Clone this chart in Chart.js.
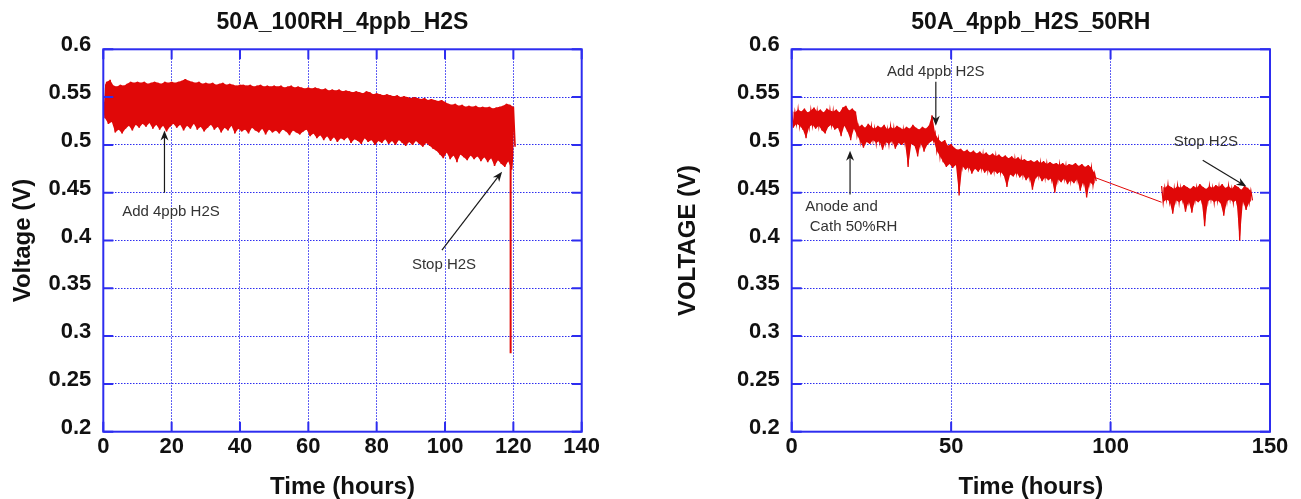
<!DOCTYPE html>
<html>
<head>
<meta charset="utf-8">
<title>Voltage vs time</title>
<script src="https://cdn.jsdelivr.net/npm/chart.js@4.4.1/dist/chart.umd.min.js"></script>
<style>
  html, body { margin: 0; padding: 0; background: #fff; }
  #wrap { position: relative; width: 1301px; height: 499px; overflow: hidden; }
  canvas { position: absolute; top: 0; }
  #chartA { left: 0; }
  #chartB { left: 660px; }
</style>
</head>
<body>
<div id="wrap">
  <canvas id="chartA" width="650" height="499"></canvas>
  <canvas id="chartB" width="641" height="499"></canvas>
</div>
<script>
// Títulos y marcas de ejes
const titleA = '50A_100RH_4ppb_H2S';
const titleB = '50A_4ppb_H2S_50RH';
const hourTicksA = [0, 20, 40, 60, 80, 100, 120, 140];
const hourTicksB = [0, 50, 100, 150];
const voltTicks = [0.2, 0.25, 0.3, 0.35, 0.4, 0.45, 0.5, 0.55, 0.6];

// Gráfico A: borde superior / inferior de la señal, una lectura por hora (0..120 h)
const highA = [
  0.560, 0.566, 0.568, 0.562, 0.561, 0.563, 0.562, 0.564, 0.566, 0.565, 0.566,
  0.565, 0.566, 0.564, 0.565, 0.566, 0.565, 0.564, 0.566, 0.565, 0.566,
  0.565, 0.566, 0.567, 0.569, 0.567, 0.566, 0.565, 0.566, 0.564, 0.565,
  0.564, 0.565, 0.563, 0.564, 0.565, 0.563, 0.564, 0.563, 0.562, 0.563,
  0.563, 0.562, 0.563, 0.561, 0.562, 0.563, 0.561, 0.562, 0.561, 0.562,
  0.561, 0.562, 0.560, 0.561, 0.562, 0.560, 0.561, 0.560, 0.559, 0.560,
  0.559, 0.560, 0.559, 0.558, 0.559, 0.557, 0.558, 0.557, 0.558, 0.556,
  0.557, 0.556, 0.555, 0.556, 0.555, 0.554, 0.556, 0.555, 0.553, 0.554,
  0.553, 0.552, 0.553, 0.552, 0.551, 0.552, 0.550, 0.551, 0.550, 0.549,
  0.550, 0.549, 0.548, 0.549, 0.547, 0.548, 0.547, 0.546, 0.547, 0.545,
  0.543, 0.542, 0.543, 0.541, 0.542, 0.540, 0.541, 0.540, 0.541, 0.539,
  0.540, 0.539, 0.540, 0.538, 0.539, 0.540, 0.541, 0.543, 0.542, 0.540
];
const lowA = [
  0.528, 0.522, 0.524, 0.513, 0.516, 0.512, 0.517, 0.520, 0.515, 0.521, 0.518,
  0.522, 0.519, 0.523, 0.517, 0.521, 0.516, 0.520, 0.514, 0.519, 0.522,
  0.518, 0.521, 0.515, 0.520, 0.517, 0.522, 0.516, 0.519, 0.514, 0.518,
  0.521, 0.516, 0.519, 0.513, 0.518, 0.515, 0.520, 0.512, 0.517, 0.514,
  0.516, 0.512, 0.518, 0.515, 0.513, 0.517, 0.511, 0.516, 0.513, 0.515,
  0.512, 0.516, 0.514, 0.510, 0.515, 0.513, 0.511, 0.514, 0.516, 0.509,
  0.512, 0.507, 0.510, 0.505, 0.509, 0.504, 0.508, 0.503, 0.507, 0.505,
  0.508, 0.502, 0.506, 0.504, 0.501, 0.507, 0.503, 0.505, 0.500, 0.504,
  0.502, 0.506, 0.501, 0.504, 0.500, 0.505, 0.502, 0.499, 0.503, 0.500,
  0.504, 0.501, 0.498, 0.502, 0.499, 0.496, 0.494, 0.490, 0.486, 0.492,
  0.485, 0.489, 0.482, 0.490, 0.487, 0.484, 0.489, 0.485, 0.488, 0.483,
  0.487, 0.482, 0.486, 0.478, 0.484, 0.480, 0.477, 0.483, 0.474, 0.498
];
// caída final a 119 h
const dropA = [[119.2, 0.505], [119.2, 0.282]];

// Gráfico B: tramo 1 (0..95 h) y tramo 2 (116..144 h)
const startB1 = 0;
const highB1 = [
  0.536, 0.534, 0.537, 0.535, 0.538, 0.534, 0.536, 0.539, 0.535, 0.537, 0.534,
  0.538, 0.536, 0.535, 0.537, 0.534, 0.539, 0.541, 0.536, 0.538, 0.535,
  0.519, 0.521, 0.518, 0.522, 0.519, 0.517, 0.520, 0.518, 0.521, 0.516,
  0.519, 0.517, 0.520, 0.518, 0.516, 0.519, 0.517, 0.521, 0.518, 0.516,
  0.519, 0.517, 0.520, 0.531,
  0.512, 0.506, 0.503, 0.505, 0.499, 0.501, 0.497, 0.495, 0.496, 0.493,
  0.495, 0.492, 0.494, 0.491, 0.493, 0.490,
  0.492, 0.489, 0.491, 0.488, 0.490, 0.487, 0.489, 0.486, 0.488, 0.485,
  0.487, 0.484, 0.485, 0.483, 0.484, 0.482, 0.484, 0.481, 0.483, 0.480,
  0.482, 0.480, 0.481, 0.479, 0.481, 0.478, 0.480, 0.479, 0.481, 0.478,
  0.480, 0.477, 0.479, 0.476, 0.470
];
const lowB1 = [
  0.518, 0.522, 0.520, 0.516, 0.507, 0.519, 0.521, 0.517, 0.520, 0.515, 0.512,
  0.519, 0.521, 0.516, 0.518, 0.509, 0.520, 0.514, 0.505, 0.517, 0.510,
  0.504, 0.497, 0.503, 0.501, 0.505, 0.502, 0.504, 0.495, 0.503, 0.501,
  0.504, 0.496, 0.502, 0.500, 0.503, 0.477, 0.501, 0.499, 0.488, 0.502,
  0.493, 0.500, 0.503, 0.505,
  0.494, 0.488, 0.482, 0.477, 0.480, 0.476, 0.479, 0.447, 0.478, 0.474,
  0.477, 0.470, 0.475, 0.472, 0.476, 0.471,
  0.474, 0.469, 0.473, 0.470, 0.472, 0.468, 0.456, 0.469, 0.467, 0.471,
  0.466, 0.469, 0.463, 0.467, 0.453, 0.465, 0.468, 0.462, 0.466, 0.463,
  0.465, 0.450, 0.464, 0.461, 0.465, 0.459, 0.463, 0.460, 0.464, 0.452,
  0.462, 0.445, 0.461, 0.458, 0.462
];
const startB2 = 116;
const highB2 = [
  0.457, 0.455, 0.458, 0.456, 0.454, 0.457, 0.455, 0.458, 0.456, 0.454,
  0.457, 0.455, 0.459, 0.456, 0.454, 0.457, 0.455, 0.458, 0.456, 0.459,
  0.455, 0.457, 0.454, 0.458, 0.456, 0.453, 0.457, 0.455, 0.452
];
const lowB2 = [
  0.440, 0.443, 0.441, 0.428, 0.442, 0.440, 0.443, 0.430, 0.441, 0.429,
  0.442, 0.440, 0.443, 0.415, 0.441, 0.443, 0.440, 0.442, 0.439, 0.426,
  0.441, 0.443, 0.440, 0.442, 0.400, 0.441, 0.432, 0.440, 0.442
];
// tramo sin datos, unido por una recta
const linkB = [[95, 0.466], [116, 0.440]];

// Notas: [texto, hora, voltaje] y flechas: [desde h, desde V, hasta h, hasta V]
const notesA = [['Add 4ppb H2S', 19.8, 0.430], ['Stop H2S', 99.7, 0.374]];
const arrowsA = [[17.9, 0.450, 17.9, 0.515], [99.1, 0.390, 116.7, 0.472]];
const notesB = [['Add 4ppb H2S', 45.2, 0.576], ['Anode and', 15.6, 0.435],
                ['Cath 50%RH', 19.4, 0.414], ['Stop H2S', 129.9, 0.503]];
const arrowsB = [[45.2, 0.566, 45.2, 0.520], [18.3, 0.448, 18.3, 0.494], [128.9, 0.484, 142.6, 0.4565]];

const RED = 'rgb(224, 8, 8)';
const BLUE = '#2d2df0';
const FONT = "'Liberation Sans', Arial, Helvetica, sans-serif";
Chart.defaults.font.family = FONT;

// La señal oscila entre el borde superior y el inferior
function zigzag(start, high, low) {
    const pts = [];
    high.forEach((h, i) => {
        pts.push({ x: start + i, y: h });
        pts.push({ x: start + i + 0.5, y: low[i] });
    });
    return pts;
}

// Un solo borde (superior en la hora entera, inferior media hora después)
function edge(start, values, shift) {
    return values.map((v, i) => ({ x: start + i + shift, y: v }));
}

function toPoints(list) {
    return list.map(p => ({ x: p[0], y: p[1] }));
}

function lineSet(data, width) {
    return {
        data: data,
        borderColor: RED,
        borderWidth: width,
        pointRadius: 0,
        tension: 0,
        fill: false
    };
}

// Relleno rojo entre los dos bordes de la señal
function bandSets(start, high, low) {
    return [
        { data: edge(start, high, 0), borderWidth: 0, borderColor: RED, pointRadius: 0, fill: false },
        { data: edge(start, low, 0.5), borderWidth: 0, borderColor: RED, pointRadius: 0,
          fill: '-1', backgroundColor: RED }
    ];
}

// Marco azul, marcas interiores, título y notas
const decorPlugin = {
    id: 'decor',
    afterDatasetsDraw(chart, args, opts) {
        const { ctx, chartArea: a, scales: { x, y } } = chart;
        ctx.save();
        ctx.strokeStyle = BLUE;
        ctx.lineWidth = 2;
        ctx.strokeRect(a.left, a.top, a.right - a.left, a.bottom - a.top);
        ctx.beginPath();
        x.ticks.forEach(t => {
            const px = x.getPixelForValue(t.value);
            ctx.moveTo(px, a.bottom); ctx.lineTo(px, a.bottom - 10);
            ctx.moveTo(px, a.top); ctx.lineTo(px, a.top + 10);
        });
        y.ticks.forEach(t => {
            const py = y.getPixelForValue(t.value);
            ctx.moveTo(a.left, py); ctx.lineTo(a.left + 10, py);
            ctx.moveTo(a.right, py); ctx.lineTo(a.right - 10, py);
        });
        ctx.stroke();

        // flechas
        ctx.strokeStyle = '#1a1a1a';
        ctx.fillStyle = '#1a1a1a';
        ctx.lineWidth = 1.2;
        opts.arrows.forEach(ar => {
            const x1 = x.getPixelForValue(ar[0]), y1 = y.getPixelForValue(ar[1]);
            const x2 = x.getPixelForValue(ar[2]), y2 = y.getPixelForValue(ar[3]);
            const ang = Math.atan2(y2 - y1, x2 - x1);
            ctx.beginPath();
            ctx.moveTo(x1, y1);
            ctx.lineTo(x2 - 6 * Math.cos(ang), y2 - 6 * Math.sin(ang));
            ctx.stroke();
            ctx.beginPath();
            ctx.moveTo(x2, y2);
            ctx.lineTo(x2 - 10 * Math.cos(ang) + 4 * Math.sin(ang), y2 - 10 * Math.sin(ang) - 4 * Math.cos(ang));
            ctx.lineTo(x2 - 7 * Math.cos(ang), y2 - 7 * Math.sin(ang));
            ctx.lineTo(x2 - 10 * Math.cos(ang) - 4 * Math.sin(ang), y2 - 10 * Math.sin(ang) + 4 * Math.cos(ang));
            ctx.closePath();
            ctx.fill();
        });

        // textos de las notas
        ctx.fillStyle = '#333';
        ctx.font = '15px ' + FONT;
        ctx.textAlign = 'center';
        ctx.textBaseline = 'middle';
        opts.notes.forEach(n => {
            ctx.fillText(n[0], x.getPixelForValue(n[1]), y.getPixelForValue(n[2]));
        });

        // título del gráfico
        ctx.fillStyle = '#111';
        ctx.font = 'bold 23px ' + FONT;
        ctx.textBaseline = 'alphabetic';
        ctx.fillText(opts.title, (a.left + a.right) / 2, 29);
        ctx.restore();
    }
};

function buildOptions(cfg) {
    return {
        responsive: false,
        animation: false,
        events: [],
        layout: { padding: { left: 0, top: 49.3, right: cfg.padRight, bottom: 0 } },
        plugins: {
            legend: { display: false },
            tooltip: { enabled: false },
            decor: { title: cfg.title, notes: cfg.notes, arrows: cfg.arrows }
        },
        scales: {
            x: {
                type: 'linear',
                min: cfg.xTicks[0],
                max: cfg.xTicks[cfg.xTicks.length - 1],
                afterBuildTicks: s => { s.ticks = cfg.xTicks.map(v => ({ value: v })); },
                afterFit: s => { s.height = 67.3; },
                grid: { color: BLUE, lineWidth: 1, drawTicks: false },
                border: { display: false, dash: [1.5, 1.5] },
                ticks: {
                    color: '#111', padding: 2, maxRotation: 0, autoSkip: false,
                    font: { size: 22, weight: 'bold' }
                },
                title: {
                    display: true, text: 'Time (hours)', color: '#111', padding: 0,
                    font: { size: 24, weight: 'bold', lineHeight: 1.0 }
                }
            },
            y: {
                type: 'linear',
                min: 0.2,
                max: 0.6,
                afterBuildTicks: s => { s.ticks = voltTicks.map(v => ({ value: v })); },
                afterFit: s => { s.width = cfg.yWidth; },
                grid: { color: BLUE, lineWidth: 1, drawTicks: false },
                border: { display: false, dash: [1.5, 1.5] },
                ticks: {
                    color: '#111', padding: 12, labelOffset: -4,
                    font: { size: 22, weight: 'bold' },
                    callback: v => String(+v.toFixed(2))
                },
                title: {
                    display: true, text: cfg.yTitle, color: '#111',
                    padding: { top: cfg.yTitlePad, bottom: 0 },
                    font: { size: 24, weight: 'bold' }
                }
            }
        }
    };
}

new Chart(document.getElementById('chartA'), {
    type: 'line',
    data: {
        datasets: [
            ...bandSets(0, highA, lowA),
            lineSet(zigzag(0, highA, lowA), 1.6),
            lineSet(toPoints(dropA), 2)
        ]
    },
    options: buildOptions({
        title: titleA, notes: notesA, arrows: arrowsA, xTicks: hourTicksA,
        yTitle: 'Voltage (V)', yWidth: 103.3, yTitlePad: 8.6, padRight: 68.3
    }),
    plugins: [decorPlugin]
});

new Chart(document.getElementById('chartB'), {
    type: 'line',
    data: {
        datasets: [
            ...bandSets(startB1, highB1, lowB1),
            ...bandSets(startB2, highB2, lowB2),
            lineSet(zigzag(startB1, highB1, lowB1), 1.3),
            lineSet(zigzag(startB2, highB2, lowB2), 1.3),
            lineSet(toPoints(linkB), 1)
        ]
    },
    options: buildOptions({
        title: titleB, notes: notesB, arrows: arrowsB, xTicks: hourTicksB,
        yTitle: 'VOLTAGE (V)', yWidth: 131.7, yTitlePad: 14.1, padRight: 31
    }),
    plugins: [decorPlugin]
});
</script>
</body>
</html>
